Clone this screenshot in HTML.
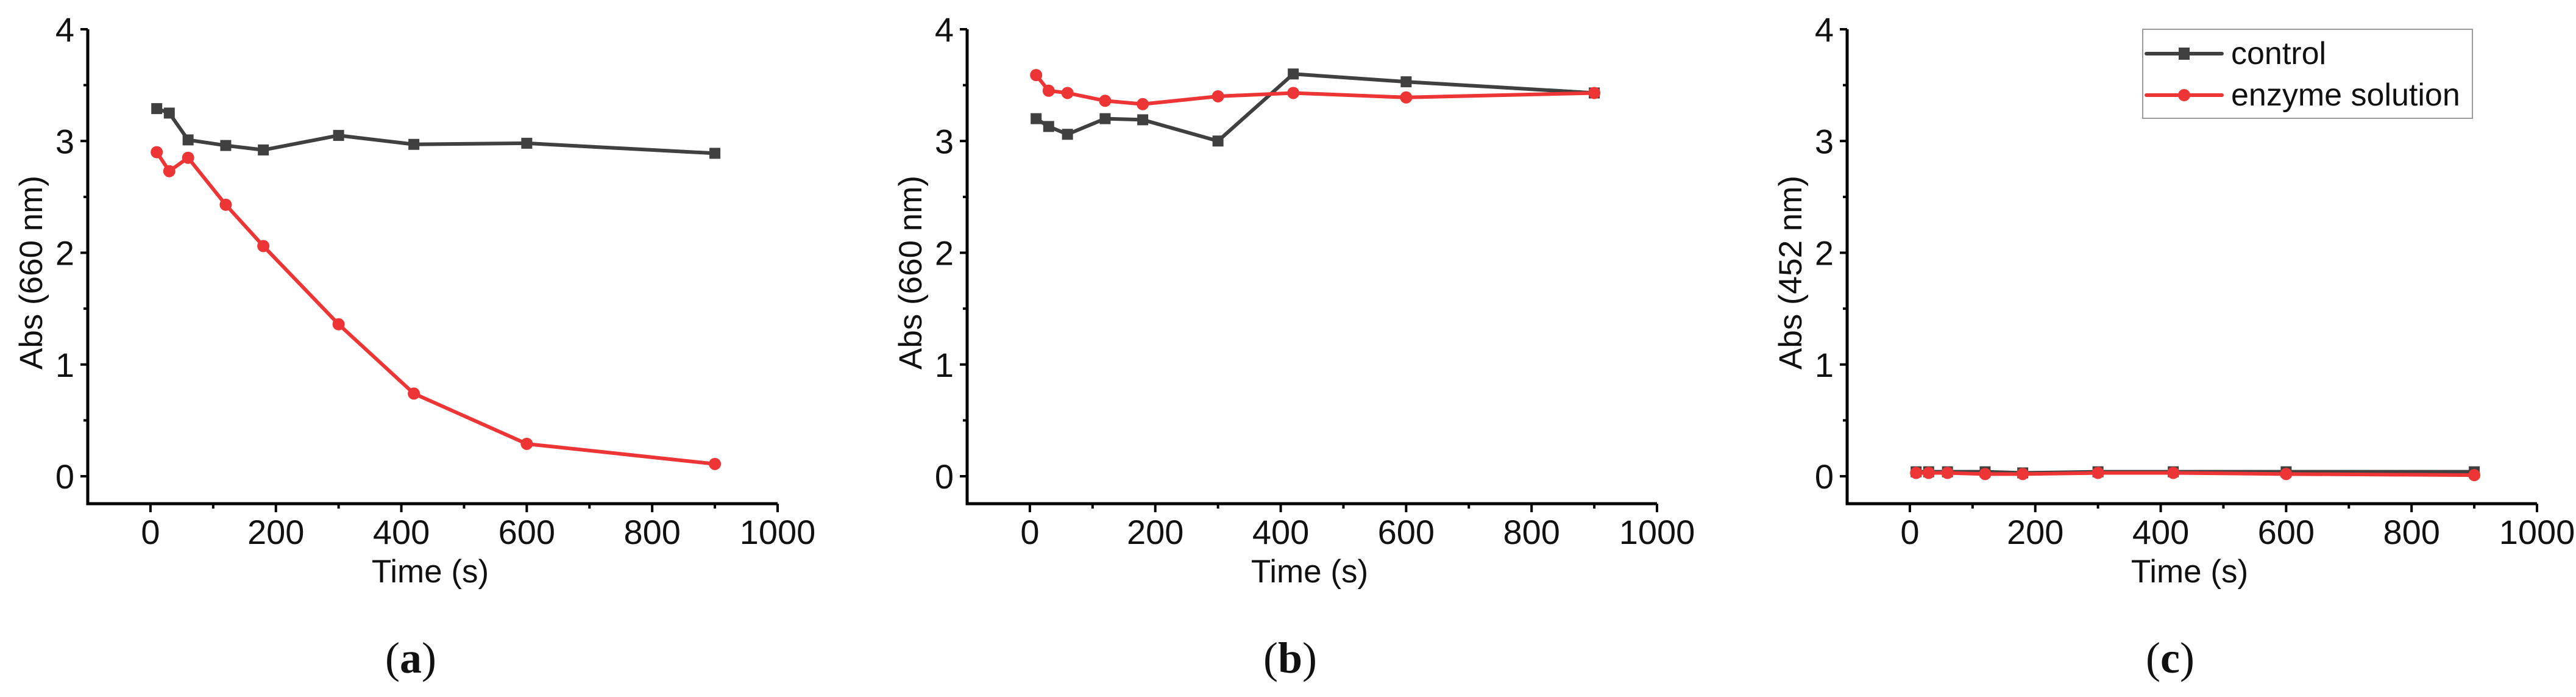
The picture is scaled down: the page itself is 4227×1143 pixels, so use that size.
<!DOCTYPE html>
<html><head><meta charset="utf-8"><style>
html,body{margin:0;padding:0;background:#fff;}
svg{display:block;}
text{font-family:"Liberation Sans",sans-serif;fill:#111;}
</style></head><body>
<svg id="fig" width="4227" height="1143" viewBox="0 0 4227 1143" xmlns="http://www.w3.org/2000/svg"></svg>
<script>
const times = [10, 30, 60, 120, 180, 300, 420, 600, 900];
const controlA = [3.29, 3.25, 3.01, 2.96, 2.92, 3.05, 2.97, 2.98, 2.89];
const enzymeA = [2.90, 2.73, 2.85, 2.43, 2.06, 1.36, 0.74, 0.29, 0.11];
const controlB = [3.20, 3.13, 3.06, 3.20, 3.19, 3.00, 3.60, 3.53, 3.43];
const enzymeB = [3.59, 3.45, 3.43, 3.36, 3.33, 3.40, 3.43, 3.39, 3.43];
const controlC = [0.04, 0.04, 0.04, 0.04, 0.03, 0.04, 0.04, 0.04, 0.04];
const enzymeC = [0.03, 0.03, 0.03, 0.02, 0.02, 0.03, 0.03, 0.02, 0.01];
const xTicks = [0, 200, 400, 600, 800, 1000];
const yTicks = [0, 1, 2, 3, 4];
const panelLabels = ["a", "b", "c"];
const yTitles = ["Abs (660 nm)", "Abs (660 nm)", "Abs (452 nm)"];

const NS = "http://www.w3.org/2000/svg";
const svg = document.getElementById("fig");
function mk(tag, attrs, parent) {
  const e = document.createElementNS(NS, tag);
  for (const k in attrs) e.setAttribute(k, attrs[k]);
  (parent || svg).appendChild(e);
  return e;
}
const GRAY = "#404040", RED = "#ee3535";
const panels = [
  {x0: 144, c: controlA, e: enzymeA},
  {x0: 1587, c: controlB, e: enzymeB},
  {x0: 3031, c: controlC, e: enzymeC}
];
const W = 1132, yTop = 48, yZero = 781, yUnit = (781 - 48) / 4, axisY = 826;

panels.forEach((p, i) => {
  const g = mk("g", {});
  
  
  const sx = v => p.x0 + (v + 100) / 1100 * W;
  const sy = v => yZero - v * yUnit;
  const ax = mk("path", {d: `M${p.x0} ${yTop} V${axisY} H${p.x0 + W}`, fill: "none", stroke: "#000", "stroke-width": 5}, g);
  
  
  for (let v = 0; v <= 4; v += 0.5) {
    const major = Number.isInteger(v);
    mk("line", {x1: p.x0, x2: p.x0 - (major ? 12 : 7), y1: sy(v), y2: sy(v), stroke: "#000", "stroke-width": 4}, g);
  }
  yTicks.forEach(v => {
    const t = mk("text", {x: p.x0 - 22, y: sy(v) + 20, "text-anchor": "end", "font-size": 56}, g);
    t.textContent = v;
    
    
  });
  for (let v = 0; v <= 1000; v += 100) {
    const major = v % 200 === 0;
    mk("line", {x1: sx(v), x2: sx(v), y1: axisY, y2: axisY + (major ? 14 : 8), stroke: "#000", "stroke-width": 4}, g);
  }
  xTicks.forEach(v => {
    const t = mk("text", {x: sx(v), y: 892, "text-anchor": "middle", "font-size": 56}, g);
    t.textContent = v;
    
    
  });
  const xt = mk("text", {x: p.x0 + 562, y: 955, "text-anchor": "middle", "font-size": 53}, g);
  xt.textContent = "Time (s)";
  
  
  const yt = mk("text", {x: 0, y: 0, "text-anchor": "middle", "font-size": 53, transform: `translate(${p.x0 - 75},${(yTop + axisY) / 2 + 10}) rotate(-90)`}, g);
  yt.textContent = yTitles[i];
  
  
  const cap = mk("text", {x: p.x0 + 530, y: 1103, "text-anchor": "middle", "font-size": 72, style: "font-family:'Liberation Serif',serif"}, g);
  cap.innerHTML = '(<tspan font-weight="bold">' + panelLabels[i] + '</tspan>)';
  
  
  [[p.c, GRAY, "control", "sq"], [p.e, RED, "enzyme", "ci"]].forEach(([vals, col, nm, mkr]) => {
    const sg = mk("g", {}, g);
    
    
    mk("polyline", {points: vals.map((v, k) => sx(times[k]) + "," + sy(v)).join(" "), fill: "none", stroke: col, "stroke-width": 6, "stroke-linejoin": "round"}, sg);
    vals.forEach((v, k) => {
      let m;
      if (mkr === "sq") m = mk("rect", {x: sx(times[k]) - 9, y: sy(v) - 9, width: 18, height: 18, fill: col}, sg);
      else m = mk("circle", {cx: sx(times[k]), cy: sy(v), r: 10, fill: col}, sg);
      
      
    });
  });
});

const lg = mk("g", {});


mk("rect", {x: 3516, y: 48, width: 541, height: 146, fill: "#fff", stroke: "#999", "stroke-width": 2}, lg);
[["control", GRAY, 88, "sq"], ["enzyme solution", RED, 156, "ci"]].forEach(([lab, col, y, mkr]) => {
  const e = mk("g", {}, lg);
  
  
  mk("line", {x1: 3522, x2: 3646, y1: y, y2: y, stroke: col, "stroke-width": 6, "stroke-linecap": "round"}, e);
  if (mkr === "sq") mk("rect", {x: 3575, y: y - 10, width: 18, height: 20, fill: col}, e);
  else mk("circle", {cx: 3584, cy: y, r: 10, fill: col}, e);
  const t = mk("text", {x: 3661, y: y + 17, "font-size": 52}, e);
  t.textContent = lab;
});
</script>
</body></html>
